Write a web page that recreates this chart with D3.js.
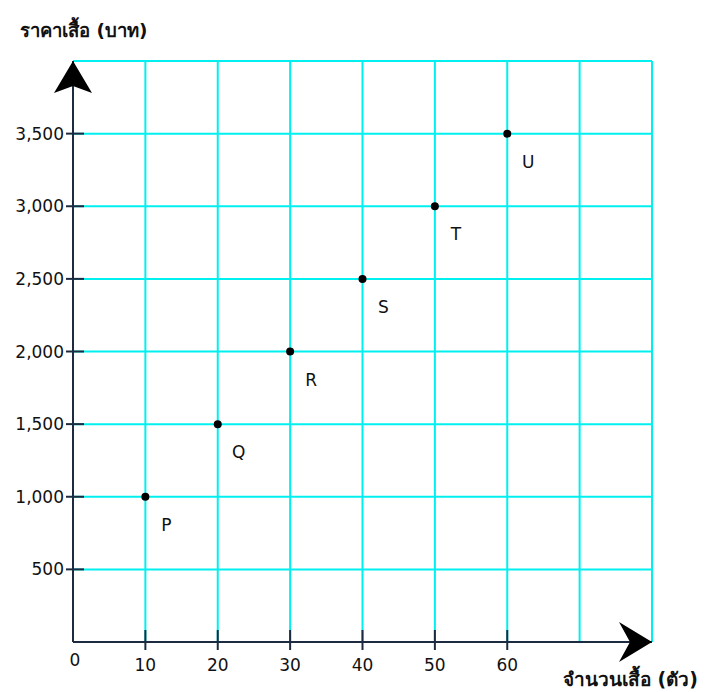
<!DOCTYPE html>
<html><head><meta charset="utf-8">
<script src="https://cdn.jsdelivr.net/npm/d3@7"></script>
<style>body{margin:0;background:#fff}svg{display:block}</style>
</head><body><svg id="c" width="709" height="692"></svg>
<script>
const labels = ["P","Q","R","S","T","U"];
const shirts = [10,20,30,40,50,60];
const prices = [1000,1500,2000,2500,3000,3500];
const xTicks = [10,20,30,40,50,60];
const yTicks = [500,1000,1500,2000,2500,3000,3500];
const xGrid = [10,20,30,40,50,60,70,80];
const yGrid = [500,1000,1500,2000,2500,3000,3500,4000];
const xTitle = "จำนวนเสื้อ (ตัว)";
const yTitle = "ราคาเสื้อ (บาท)";

const svg = d3.select("#c");
const x = d3.scaleLinear().domain([0,80]).range([73,652]);
const y = d3.scaleLinear().domain([0,4000]).range([642,61]);
const axisCol = "#1c2b3f";
const font = "'DejaVu Sans', Verdana, sans-serif";

// grid
svg.append("g").selectAll("line").data(xGrid).join("line")
  .attr("x1",d=>x(d)).attr("x2",d=>x(d)).attr("y1",y(0)).attr("y2",y(4000))
  .attr("stroke","#00f0f0").attr("stroke-width",2);
svg.append("g").selectAll("line").data(yGrid).join("line")
  .attr("y1",d=>y(d)).attr("y2",d=>y(d)).attr("x1",x(0)).attr("x2",x(80))
  .attr("stroke","#00f0f0").attr("stroke-width",2);

// axes
svg.append("line").attr("x1",x(0)).attr("x2",x(80)).attr("y1",y(0)).attr("y2",y(0))
  .attr("stroke",axisCol).attr("stroke-width",2);
svg.append("line").attr("x1",x(0)).attr("x2",x(0)).attr("y1",y(0)).attr("y2",y(4000))
  .attr("stroke",axisCol).attr("stroke-width",2);

// ticks
svg.append("g").selectAll("line").data(yTicks).join("line")
  .attr("x1",x(0)-7).attr("x2",x(0)+11).attr("y1",d=>y(d)).attr("y2",d=>y(d))
  .attr("stroke",axisCol).attr("stroke-width",2);
svg.append("g").selectAll("line").data(xTicks).join("line")
  .attr("x1",d=>x(d)).attr("x2",d=>x(d)).attr("y1",y(0)-12).attr("y2",y(0)+8)
  .attr("stroke",axisCol).attr("stroke-width",2);

// arrowheads
const ax = x(0), ay = y(4000);
svg.append("path")
  .attr("d",`M${ax},${ay} L${ax+19},${ay+32} L${ax},${ay+25} L${ax-19},${ay+32} Z`)
  .attr("fill","#000");
const bx = x(80), by = y(0);
svg.append("path")
  .attr("d",`M${bx},${by} L${bx-33},${by-20} L${bx-22},${by} L${bx-33},${by+20} Z`)
  .attr("fill","#000");

// tick labels
svg.append("g").selectAll("text").data(yTicks).join("text")
  .attr("x",x(0)-9).attr("y",d=>y(d)).attr("dy","0.36em")
  .attr("text-anchor","end").attr("font-family",font).attr("font-size",17)
  .attr("fill","#111").text(d=>d3.format(",")(d));
svg.append("g").selectAll("text").data(xTicks).join("text")
  .attr("x",d=>x(d)).attr("y",671)
  .attr("text-anchor","middle").attr("font-family",font).attr("font-size",17)
  .attr("fill","#111").text(d=>d);
svg.append("text").attr("x",x(0)+2).attr("y",666).attr("text-anchor","middle")
  .attr("font-family",font).attr("font-size",17).attr("fill","#111").text("0");

// points
const pts = labels.map((l,i)=>({l, sx:shirts[i], p:prices[i]}));
svg.append("g").selectAll("circle").data(pts).join("circle")
  .attr("cx",d=>x(d.sx)).attr("cy",d=>y(d.p)).attr("r",4).attr("fill","#000");
svg.append("g").selectAll("text").data(pts).join("text")
  .attr("x",d=>x(d.sx)+21).attr("y",d=>y(d.p)+34)
  .attr("text-anchor","middle").attr("font-family",font).attr("font-size",17)
  .attr("fill","#111").text(d=>d.l);

// titles
svg.append("text").attr("x",20).attr("y",37).attr("font-family",font)
  .attr("font-size",18.5).attr("font-weight","bold").attr("fill","#111").text(yTitle);
svg.append("text").attr("x",563).attr("y",686).attr("font-family",font)
  .attr("font-size",19).attr("font-weight","bold").attr("fill","#111").text(xTitle);
</script></body></html>
